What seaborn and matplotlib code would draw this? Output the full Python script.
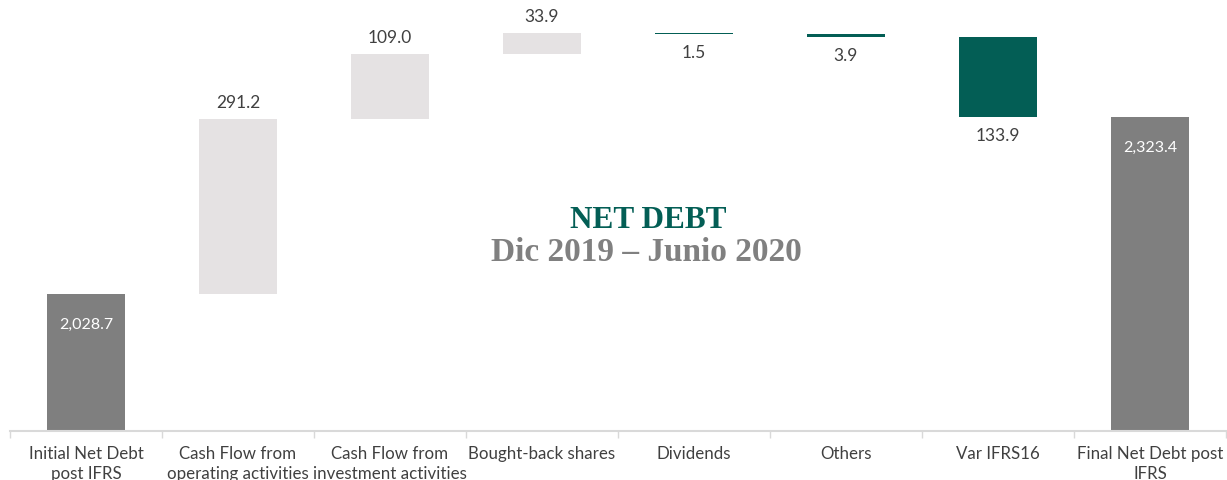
import matplotlib
matplotlib.use("Agg")
import matplotlib.pyplot as plt
import seaborn as sns
import numpy as np
import pandas as pd

categories = ["Initial Net Debt\npost IFRS", "Cash Flow from\noperating activities",
              "Cash Flow from\ninvestment activities", "Bought-back shares",
              "Dividends", "Others", "Var IFRS16", "Final Net Debt post\nIFRS"]
changes = [2028.7, 291.2, 109.0, 33.9, -1.5, -3.9, -133.9, 2323.4]
kinds = ["total", "up", "up", "up", "down", "down", "down", "total"]
labels = ["2,028.7", "291.2", "109.0", "33.9", "1.5", "3.9", "133.9", "2,323.4"]

AXIS_MIN = 1800

# waterfall geometry from the values
bottoms, tops = [], []
running = 0.0
for c, k in zip(changes, kinds):
    if k == "total":
        bottoms.append(AXIS_MIN)
        tops.append(c)
        running = c
    else:
        new = running + c
        bottoms.append(min(running, new))
        tops.append(max(running, new))
        running = new
heights = [t - b for t, b in zip(tops, bottoms)]

df = pd.DataFrame({"cat": categories, "height": heights, "bottom": bottoms})

colors = {"total": "#7f7f7f", "up": "#e5e2e3", "down": "#035e55"}

sns.set_theme(style="white")
plt.rcParams["font.family"] = ["Lato", "DejaVu Sans"]

fig = plt.figure(figsize=(12.27, 4.81), dpi=100)
ax = fig.add_axes([10 / 1227, (481 - 432) / 481, 1216 / 1227, 432 / 481])

sns.barplot(data=df, x="cat", y="height", bottom=df["bottom"].values,
            width=0.51, color="#7f7f7f", saturation=1, ax=ax, linewidth=0)
for p, k in zip(ax.patches, kinds):
    p.set_facecolor(colors[k])
    p.set_edgecolor("none")

ax.set_xlim(-0.5, len(categories) - 0.5)
ax.set_ylim(AXIS_MIN, AXIS_MIN + 432 / 0.6)

for i, (b, t, k, lab) in enumerate(zip(bottoms, tops, kinds, labels)):
    if k == "total":
        ax.annotate(lab, (i, t), xytext=(0, -23), textcoords="offset pixels",
                    ha="center", va="top", color="white", fontsize=11.5)
    elif k == "up":
        ax.annotate(lab, (i, t), xytext=(0, 9), textcoords="offset pixels",
                    ha="center", va="bottom", color="#404040", fontsize=12.5)
    else:
        ax.annotate(lab, (i, b), xytext=(0, -10), textcoords="offset pixels",
                    ha="center", va="top", color="#404040", fontsize=12.5)

fig.text(0.528, 1 - 228 / 481, "NET DEBT", ha="center", va="baseline",
         fontsize=22.5, fontweight="bold", color="#035e55", family="Liberation Serif")
fig.text(0.527, 1 - 261 / 481, "Dic 2019 \u2013 Junio 2020", ha="center",
         va="baseline", fontsize=24, fontweight="bold", color="#808080",
         family="Liberation Serif")

for s in ["top", "right", "left"]:
    ax.spines[s].set_visible(False)
ax.spines["bottom"].set_color("#d9d9d9")
ax.spines["bottom"].set_linewidth(1.5)
ax.set_yticks([])
ax.set_xlabel("")
ax.set_ylabel("")
ax.set_xticks(range(len(categories)))
ax.set_xticklabels(categories, fontsize=12.2, color="#404040", linespacing=1.3)
ax.tick_params(axis="x", which="major", length=0, pad=10)
ax.set_xticks(np.arange(-0.5, len(categories), 1.0), minor=True)
ax.tick_params(axis="x", which="minor", length=5, color="#d9d9d9", width=1, bottom=True)

fig.savefig("out.png", dpi=100)
